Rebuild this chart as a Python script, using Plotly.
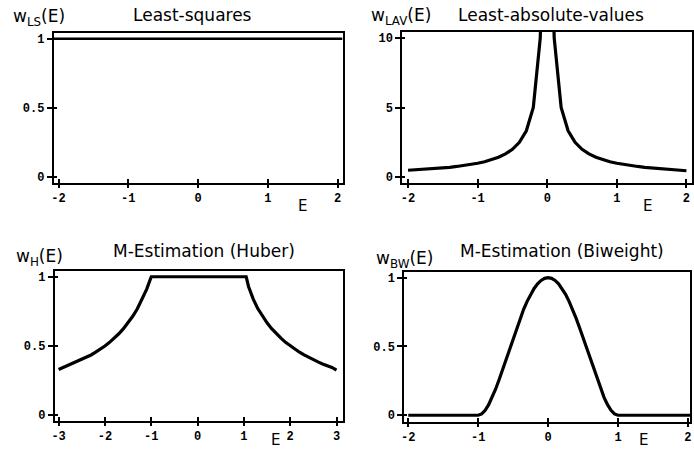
import plotly.graph_objects as go

# ---------------- data ----------------
ls_E = [-2.07, 2.07]
ls_w = [1.0, 1.0]

lav_E = [-2.0, -1.9, -1.8, -1.7, -1.6, -1.5, -1.4, -1.3, -1.2, -1.1, -1.0,
         -0.9, -0.8, -0.7, -0.6, -0.5, -0.4, -0.3, -0.2, -0.1, -0.05,
         0.05, 0.1, 0.2, 0.3, 0.4, 0.5, 0.6, 0.7, 0.8, 0.9, 1.0,
         1.1, 1.2, 1.3, 1.4, 1.5, 1.6, 1.7, 1.8, 1.9, 2.0]
lav_w = [0.5, 0.53, 0.56, 0.59, 0.63, 0.67, 0.71, 0.77, 0.83, 0.91, 1.0,
         1.11, 1.25, 1.43, 1.67, 2.0, 2.5, 3.33, 5.0, 10.0, 20.0,
         20.0, 10.0, 5.0, 3.33, 2.5, 2.0, 1.67, 1.43, 1.25, 1.11, 1.0,
         0.91, 0.83, 0.77, 0.71, 0.67, 0.63, 0.59, 0.56, 0.53, 0.46]

hub_E = [-3.0, -2.9, -2.8, -2.7, -2.6, -2.5, -2.4, -2.3, -2.2, -2.1, -2.0,
         -1.9, -1.8, -1.7, -1.6, -1.5, -1.4, -1.3, -1.2, -1.1, -1.0,
         1.05, 1.1, 1.2, 1.3, 1.4, 1.5, 1.6, 1.7, 1.8, 1.9, 2.0,
         2.1, 2.2, 2.3, 2.4, 2.5, 2.6, 2.7, 2.8, 2.9, 3.0]
hub_w = [0.33, 0.345, 0.357, 0.37, 0.385, 0.4, 0.417, 0.435, 0.455, 0.476, 0.5,
         0.526, 0.556, 0.588, 0.625, 0.667, 0.714, 0.769, 0.833, 0.909, 1.0,
         1.0, 0.93, 0.84, 0.77, 0.715, 0.667, 0.625, 0.588, 0.556, 0.526, 0.5,
         0.476, 0.455, 0.435, 0.417, 0.4, 0.385, 0.37, 0.357, 0.345, 0.325]

bw_E = [-2.0, -1.0, -0.95, -0.9, -0.85, -0.8, -0.75, -0.7, -0.65, -0.6, -0.55,
        -0.5, -0.45, -0.4, -0.35, -0.3, -0.25, -0.2, -0.15, -0.1, -0.05, 0.0,
        0.05, 0.1, 0.15, 0.2, 0.25, 0.3, 0.35, 0.4, 0.45, 0.5, 0.55,
        0.6, 0.65, 0.7, 0.75, 0.8, 0.85, 0.9, 0.95, 1.0, 2.03]
bw_w = [0.0, 0.0, 0.01, 0.036, 0.077, 0.13, 0.191, 0.26, 0.334, 0.41, 0.487,
        0.563, 0.636, 0.706, 0.77, 0.828, 0.879, 0.922, 0.956, 0.98, 0.995, 1.0,
        0.995, 0.98, 0.956, 0.922, 0.879, 0.828, 0.77, 0.706, 0.636, 0.563, 0.487,
        0.41, 0.334, 0.26, 0.191, 0.13, 0.077, 0.036, 0.01, 0.0, 0.0]

titles = ["Least-squares", "Least-absolute-values",
          "M-Estimation (Huber)", "M-Estimation (Biweight)"]
ylabels = ["w<sub>LS</sub>(E)", "w<sub>LAV</sub>(E)",
           "w<sub>H</sub>(E)", "w<sub>BW</sub>(E)"]
xlabel = "E"

x_ticks_2 = [-2, -1, 0, 1, 2]
x_ticktext_2 = ["-2", "-1", "0", "1", "2"]
x_ticks_3 = [-3, -2, -1, 0, 1, 2, 3]
x_ticktext_3 = ["-3", "-2", "-1", "0", "1", "2", "3"]
y_ticks_1 = [0, 0.5, 1]
y_ticktext_1 = ["0", "0.5", "1"]
y_ticks_10 = [0, 5, 10]
y_ticktext_10 = ["0", "5", "10"]

# ---------------- layout geometry ----------------
W, H = 694, 451
panels = [
    dict(E=ls_E, w=ls_w, xd=(51, 342), yd=(33, 184), xr=[-2.07, 2.07], yr=[-0.043, 1.043],
         xt=(x_ticks_2, x_ticktext_2), yt=(y_ticks_1, y_ticktext_1), lw=2.5),
    dict(E=lav_E, w=lav_w, xd=(402, 694), yd=(32, 184), xr=[-2.085, 2.08], yr=[-0.43, 10.43],
         xt=(x_ticks_2, x_ticktext_2), yt=(y_ticks_10, y_ticktext_10), lw=3.2),
    dict(E=hub_E, w=hub_w, xd=(52, 342), yd=(272, 423), xr=[-3.086, 3.13], yr=[-0.043, 1.043],
         xt=(x_ticks_3, x_ticktext_3), yt=(y_ticks_1, y_ticktext_1), lw=3.2),
    dict(E=bw_E, w=bw_w, xd=(404, 692), yd=(273, 424), xr=[-2.06, 2.03], yr=[-0.05, 1.043],
         xt=(x_ticks_2, x_ticktext_2), yt=(y_ticks_1, y_ticktext_1), lw=3.2),
]

tickfont = dict(family="Liberation Mono", size=12, color="black", weight="bold")
fig = go.Figure()
layout = dict(width=W, height=H, margin=dict(l=0, r=0, t=0, b=0),
              paper_bgcolor="white", plot_bgcolor="white", showlegend=False)

for i, p in enumerate(panels):
    n = i + 1
    m = i + 5
    xdom = [p["xd"][0] / W, p["xd"][1] / W]
    ydom = [1 - p["yd"][1] / H, 1 - p["yd"][0] / H]
    fig.add_trace(go.Scatter(x=p["E"], y=p["w"], mode="lines",
                             line=dict(color="black", width=p["lw"]),
                             xaxis=f"x{n}", yaxis=f"y{n}", hoverinfo="skip"))
    fig.add_trace(go.Scatter(x=[None], y=[None], mode="lines",
                             xaxis=f"x{m}", yaxis=f"y{m}", hoverinfo="skip"))
    common = dict(showgrid=False, zeroline=False, fixedrange=True)
    layout[f"xaxis{n}"] = dict(domain=xdom, range=p["xr"], anchor=f"y{n}",
                               tickmode="array", tickvals=p["xt"][0], ticktext=p["xt"][1],
                               ticks="outside", ticklen=3, tickwidth=1.5, tickcolor="black",
                               showline=True, linecolor="black", linewidth=1.5, mirror=True,
                               tickfont=tickfont, **common)
    layout[f"yaxis{n}"] = dict(domain=ydom, range=p["yr"], anchor=f"x{n}",
                               tickmode="array", tickvals=p["yt"][0], ticktext=p["yt"][1],
                               ticks="outside", ticklen=5, tickwidth=1.5, tickcolor="black",
                               showline=True, linecolor="black", linewidth=1.5, mirror=True,
                               tickfont=tickfont, **common)
    layout[f"xaxis{m}"] = dict(overlaying=f"x{n}", range=p["xr"], anchor=f"y{n}",
                               tickmode="array", tickvals=p["xt"][0],
                               ticks="inside", ticklen=4, tickwidth=1.5, tickcolor="black",
                               showticklabels=False, showline=False, **common)
    layout[f"yaxis{m}"] = dict(overlaying=f"y{n}", range=p["yr"], anchor=f"x{n}",
                               tickmode="array", tickvals=p["yt"][0],
                               ticks="inside", ticklen=3, tickwidth=1.5, tickcolor="black",
                               showticklabels=False, showline=False, **common)

fig.update_layout(**layout)

tfont = dict(family="DejaVu Sans", size=17, color="black")
lfont = dict(family="DejaVu Sans", size=17, color="black")
efont = dict(family="DejaVu Sans", size=15, color="black")
title_pos = [(191, 15), (552, 15), (202, 252), (563, 252)]
ylab_pos = [(8, 18), (369, 17), (11, 259), (374, 261)]
xlab_pos = [(302, 207), (649, 207), (274, 442), (645, 442)]
for i in range(4):
    tx, ty = title_pos[i]
    fig.add_annotation(x=tx / W, y=1 - ty / H, xref="paper", yref="paper",
                       text=titles[i], showarrow=False, font=tfont,
                       xanchor="center", yanchor="middle")
    lx, ly = ylab_pos[i]
    fig.add_annotation(x=lx / W, y=1 - ly / H, xref="paper", yref="paper",
                       text=ylabels[i], showarrow=False, font=lfont,
                       xanchor="left", yanchor="middle")
    ex, ey = xlab_pos[i]
    fig.add_annotation(x=ex / W, y=1 - ey / H, xref="paper", yref="paper",
                       text=xlabel, showarrow=False, font=efont,
                       xanchor="center", yanchor="middle")

fig.write_html("out.html", config={"displayModeBar": False})
